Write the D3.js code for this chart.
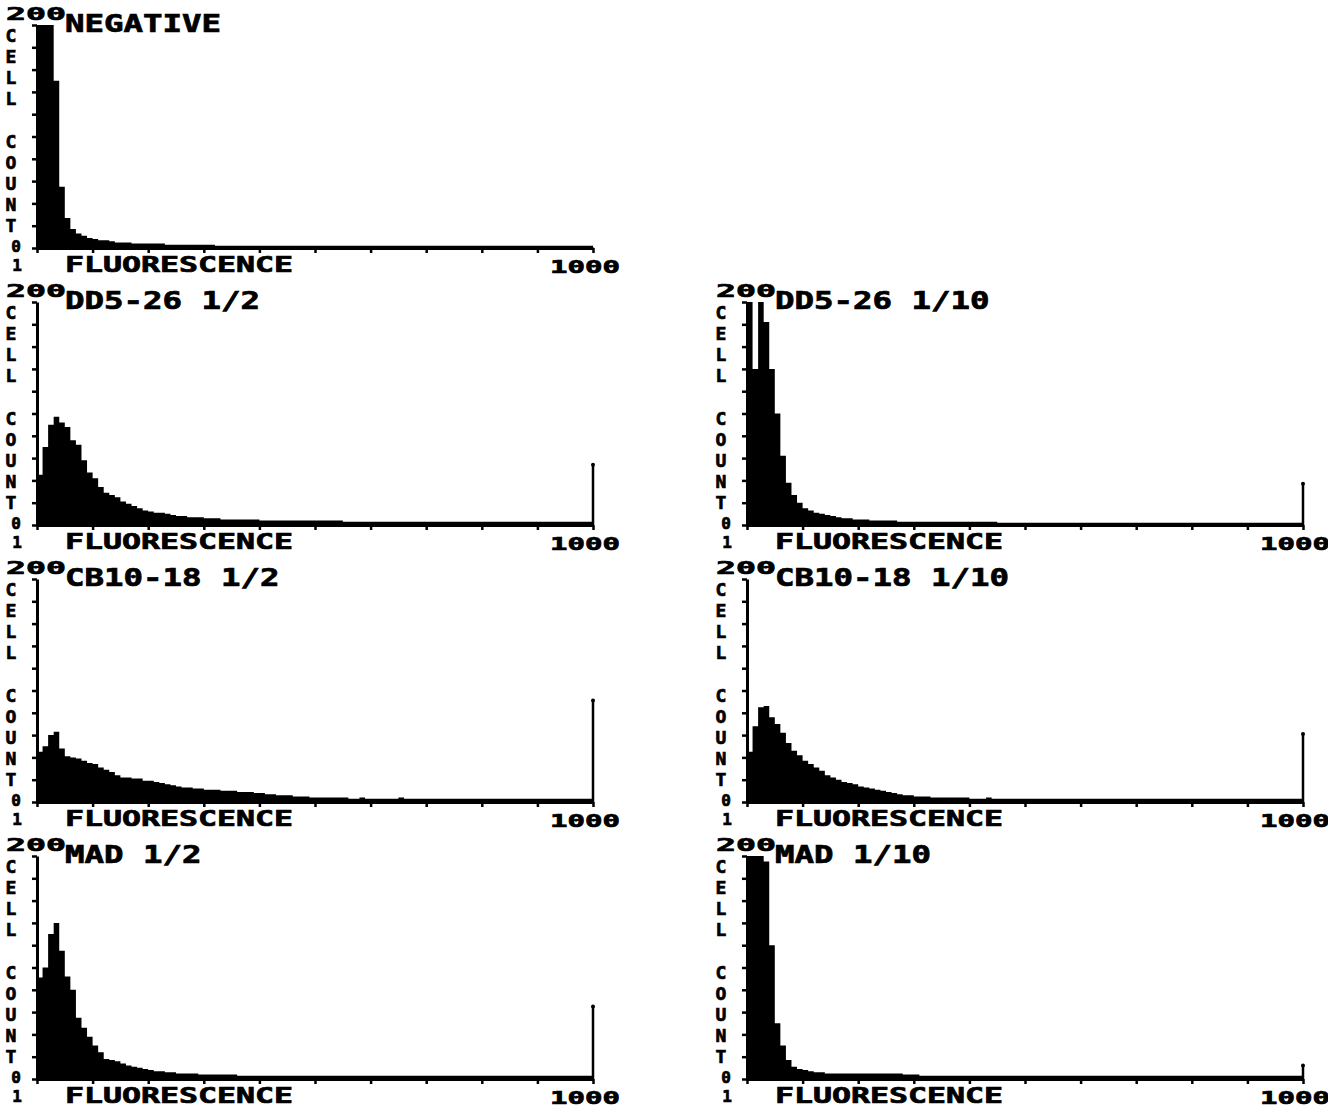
<!DOCTYPE html>
<html>
<head>
<meta charset="utf-8">
<script src="https://cdn.jsdelivr.net/npm/d3@7"></script>
<style>
  body { margin: 0; background: #fff; }
  svg { display: block; }
  text { font-family: "DejaVu Sans Mono", monospace; font-weight: bold; fill: #000; stroke: #000; stroke-width: 0.7px; }
</style>
</head>
<body>
<svg id="chart"></svg>
<script>
// panel titles, in reading order
const titles = ["NEGATIVE", "DD5-26 1/2", "DD5-26 1/10", "CB10-18 1/2", "CB10-18 1/10", "MAD 1/2", "MAD 1/10"];

// cell counts per fluorescence channel (100 channels, log scale 1..1000)
const negative = [
  200,200,200,150,55,27,17,13,11,9, 8,7,7,6,5,5,5,4,4,4,
  4,4,4,3,3,3,3,3,3,3, 3,3,2,2,2,2,2,2,2,2,
  2,2,2,2,2,2,2,2,2,2, 2,2,2,2,2,2,2,2,2,2,
  2,2,2,2,2,2,2,2,2,2, 2,2,2,2,2,2,2,2,2,2,
  2,2,2,2,2,2,2,2,2,2, 2,2,2,2,2,2,2,2,2,2
];
const dd526Half = [
  45,70,90,97,92,88,76,72,58,47, 42,34,29,27,25,21,19,17,15,13,
  12,11,11,10,9,8,8,7,7,7, 6,6,6,5,5,5,5,5,5,5,
  4,4,4,4,4,4,4,4,4,4, 4,4,4,4,4,3,3,3,3,3,
  3,3,3,3,3,3,3,3,3,3, 3,3,3,3,3,3,3,3,3,3,
  3,3,3,3,3,3,3,3,3,3, 3,3,3,3,3,3,3,3,3,3
];
const dd526Tenth = [
  200,140,200,182,140,100,62,38,27,20, 15,13,11,10,9,8,7,6,6,5,
  5,5,4,4,4,4,4,3,3,3, 3,3,3,3,3,3,3,3,3,3,
  3,3,3,3,3,2,2,2,2,2, 2,2,2,2,2,2,2,2,2,2,
  2,2,2,2,2,2,2,2,2,2, 2,2,2,2,2,2,2,2,2,2,
  2,2,2,2,2,2,2,2,2,2, 2,2,2,2,2,2,2,2,2,2
];
const cb1018Half = [
  45,50,60,63,48,41,40,39,37,35, 34,31,29,27,24,22,22,21,21,19,
  19,18,17,16,15,14,13,13,12,12, 11,11,11,10,10,10,9,9,9,8,
  8,7,7,6,6,6,5,5,5,4, 4,4,4,4,4,4,3,3,4,3,
  3,3,3,3,3,4,3,3,3,3, 3,3,3,3,3,3,3,3,3,3,
  3,3,3,3,3,3,3,3,3,3, 3,3,3,3,3,3,3,3,3,3
];
const cb1018Tenth = [
  45,68,85,86,76,70,62,53,46,42, 37,34,31,28,24,22,20,18,17,16,
  14,13,12,11,10,9,8,7,6,6, 5,5,5,4,4,4,4,4,4,4,
  3,3,3,4,3,3,3,3,3,3, 3,3,3,3,3,3,3,3,3,3,
  3,3,3,3,3,3,3,3,3,3, 3,3,3,3,3,3,3,3,3,3,
  3,3,3,3,3,3,3,3,3,3, 3,3,3,3,3,3,3,3,3,3
];
const madHalf = [
  91,100,130,140,115,92,80,55,46,38, 30,24,18,17,16,14,12,11,10,9,
  8,7,7,6,6,5,5,5,5,4, 4,4,4,4,4,4,3,3,3,3,
  3,3,3,3,3,3,3,3,3,3, 3,3,3,3,3,3,3,3,3,3,
  3,3,3,3,3,3,3,3,3,3, 3,3,3,3,3,3,3,3,3,3,
  3,3,3,3,3,3,3,3,3,3, 3,3,3,3,3,3,3,3,3,3
];
const madTenth = [
  200,200,200,195,120,50,30,17,11,9, 8,7,6,6,5,5,5,5,5,5,
  5,5,5,5,5,5,5,5,4,4, 4,3,3,3,3,3,3,3,3,3,
  3,3,3,3,3,3,3,3,3,3, 3,3,3,3,3,3,3,3,3,3,
  3,3,3,3,3,3,3,3,3,3, 3,3,3,3,3,3,3,3,3,3,
  3,3,3,3,3,3,3,3,3,3, 3,3,3,3,3,3,3,3,3,3
];
// counts piled up in the last (off-scale) channel
const overflowCounts = [0, 54, 37, 91, 61, 65, 12];

const yTickLabels = ["0", "200"];
const xTickLabels = ["1", "1000"];
const yTitle = "CELL COUNT";
const xTitle = "FLUORESCENCE";

const series = [negative, dd526Half, dd526Tenth, cb1018Half, cb1018Tenth, madHalf, madTenth];

// layout
const width = 1328, height = 1111;
const colX = [37, 747];
const rowBase = [248, 525, 802, 1079];
const panelCol = [0, 0, 1, 0, 1, 0, 1];
const panelRow = [0, 1, 1, 2, 2, 3, 3];
const plotW = 556, plotH = 223;
const nBins = 100;

const svg = d3.select("#chart").attr("width", width).attr("height", height);
svg.append("rect").attr("width", width).attr("height", height).attr("fill", "#fff");

series.forEach((counts, p) => {
  const x0 = colX[panelCol[p]];
  const base = rowBase[panelRow[p]];

  const x = d3.scaleLinear().domain([0, nBins]).range([x0, x0 + plotW]);
  const y = d3.scaleLinear().domain([0, 200]).range([base, base - plotH]).clamp(true);

  const g = svg.append("g");

  // histogram
  const area = d3.area()
    .x((d, i) => x(i))
    .y0(y(0))
    .y1((d) => y(d))
    .curve(d3.curveStepAfter);
  g.append("path")
    .datum(counts.concat([counts[counts.length - 1]]))
    .attr("fill", "#000")
    .attr("d", area);

  // overflow channel spike
  if (overflowCounts[p] > 0) {
    g.append("line")
      .attr("x1", x(nBins)).attr("x2", x(nBins))
      .attr("y1", y(0)).attr("y2", y(overflowCounts[p]))
      .attr("stroke", "#000").attr("stroke-width", 2.5);
    g.append("circle")
      .attr("cx", x(nBins)).attr("cy", y(overflowCounts[p]))
      .attr("r", 2).attr("fill", "#000");
  }

  // axes
  const xAxis = g.append("g")
    .attr("transform", `translate(0,${base})`)
    .call(d3.axisBottom(x).tickValues(d3.range(0, nBins + 1, 10)).tickSize(5).tickSizeOuter(0).tickFormat(""));
  const yAxis = g.append("g")
    .attr("transform", `translate(${x0},0)`)
    .call(d3.axisLeft(y).tickValues(d3.range(0, 201, 20)).tickSize(5).tickSizeOuter(0).tickFormat(""));
  [xAxis, yAxis].forEach((a) => {
    a.select(".domain").attr("stroke", "#000").attr("stroke-width", 3);
    a.selectAll(".tick line").attr("stroke", "#000").attr("stroke-width", 2.5);
  });

  // y labels
  g.append("text")
    .attr("x", x0 - 31).attr("y", y(200) - 5)
    .attr("textLength", 60).attr("lengthAdjust", "spacingAndGlyphs")
    .style("font-size", "18px")
    .text(yTickLabels[1]);
  g.append("text")
    .attr("x", x0 - 21).attr("y", y(0) + 4)
    .attr("text-anchor", "middle")
    .style("font-size", "16px")
    .text(yTickLabels[0]);
  yTitle.split("").forEach((ch, i) => {
    g.append("text")
      .attr("x", x0 - 26).attr("y", y(200) + 17 + i * 21.1)
      .attr("text-anchor", "middle")
      .style("font-size", "18px")
      .text(ch);
  });

  // x labels
  g.append("text")
    .attr("x", x0 - 20).attr("y", base + 23)
    .attr("text-anchor", "middle")
    .style("font-size", "16px")
    .text(xTickLabels[0]);
  g.append("text")
    .attr("x", x0 + 28).attr("y", base + 24)
    .attr("textLength", 228).attr("lengthAdjust", "spacingAndGlyphs")
    .style("font-size", "21px")
    .text(xTitle);
  g.append("text")
    .attr("x", x0 + plotW - 43).attr("y", base + 25)
    .attr("textLength", 70).attr("lengthAdjust", "spacingAndGlyphs")
    .style("font-size", "18px")
    .text(xTickLabels[1]);

  // panel title
  g.append("text")
    .attr("x", x0 + 28).attr("y", y(200) + 7)
    .attr("textLength", titles[p].length * 19.5).attr("lengthAdjust", "spacingAndGlyphs")
    .style("font-size", "24px")
    .text(titles[p]);
});
</script>
</body>
</html>
